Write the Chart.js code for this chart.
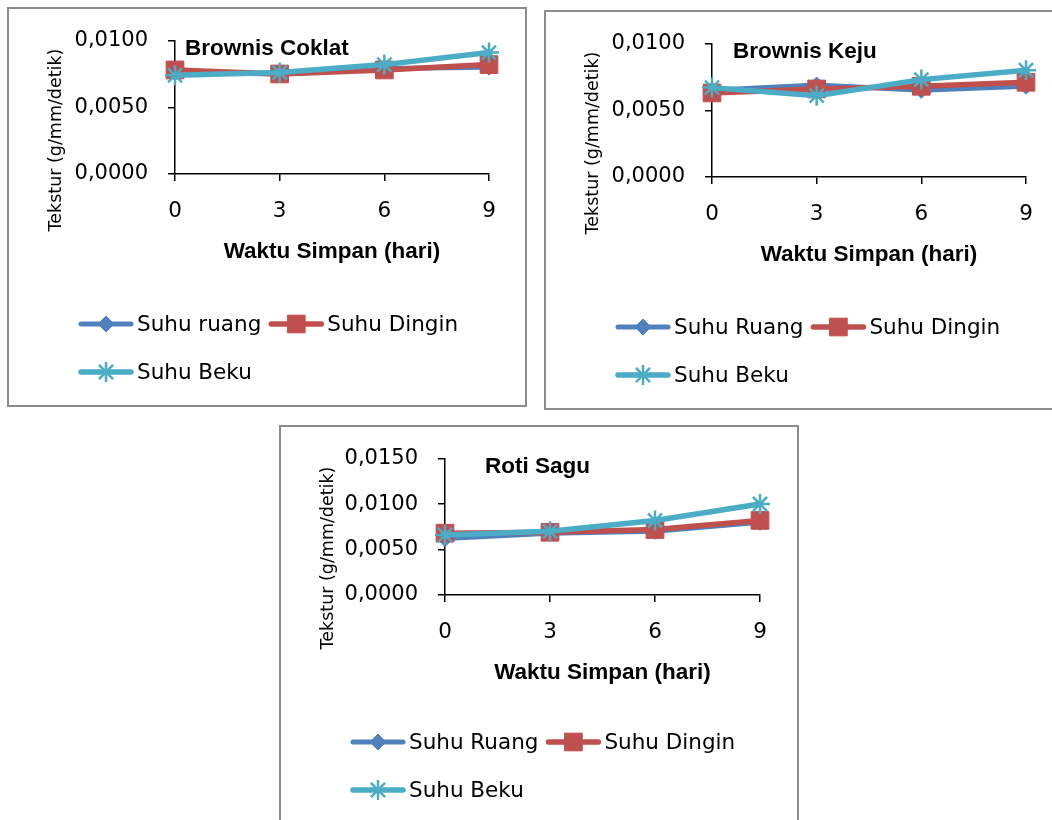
<!DOCTYPE html>
<html>
<head>
<meta charset="utf-8">
<script src="https://cdn.jsdelivr.net/npm/chart.js@4.4.1/dist/chart.umd.min.js"></script>
<style>
html,body{margin:0;padding:0;background:#fff;overflow:hidden;width:1052px;height:820px;}
.box{position:absolute;width:518px;height:398px;}
.box canvas{position:absolute;left:0;top:0;}
.frame{position:absolute;left:-1px;top:-1px;width:520px;height:400px;box-sizing:border-box;border:2px solid #8c8c8c;pointer-events:none;}
</style>
</head>
<body>
<div class="box" style="left:8px;top:8px"><canvas id="c1" width="518" height="398"></canvas><div class="frame"></div></div>
<div class="box" style="left:545px;top:11px"><canvas id="c2" width="518" height="398"></canvas><div class="frame"></div></div>
<div class="box" style="left:280px;top:426px"><canvas id="c3" width="518" height="398"></canvas><div class="frame"></div></div>
<script>
// ---- data ----
const categories = ['0', '3', '6', '9'];
const namesCoklat = ['Suhu ruang', 'Suhu Dingin', 'Suhu Beku'];
const namesOther = ['Suhu Ruang', 'Suhu Dingin', 'Suhu Beku'];

const coklatRuang  = [0.0076, 0.0075, 0.0079, 0.0080];
const coklatDingin = [0.0078, 0.0075, 0.0078, 0.0082];
const coklatBeku   = [0.0074, 0.0076, 0.0082, 0.0091];

const kejuRuang  = [0.0065, 0.0069, 0.0065, 0.0068];
const kejuDingin = [0.0063, 0.0066, 0.0068, 0.0071];
const kejuBeku   = [0.0067, 0.0061, 0.0073, 0.0080];

const saguRuang  = [0.0062, 0.0068, 0.0070, 0.0080];
const saguDingin = [0.0068, 0.0069, 0.0072, 0.0082];
const saguBeku   = [0.0066, 0.0070, 0.0082, 0.0100];

const yTicksBrownis = [0, 0.005, 0.01];
const yTicksSagu = [0, 0.005, 0.01, 0.015];

const xTitle = 'Waktu Simpan (hari)';
const yTitle = 'Tekstur (g/mm/detik)';

// ---- styles ----
const BLUE = '#4F81BD', RED = '#C0504D', CYAN = '#4BACC6';
const REG = '"DejaVu Sans", sans-serif';
const BOLD = '"Liberation Sans", Arial, sans-serif';

function drawMarker(ctx, style, x, y, r, color, bw) {
  ctx.save();
  ctx.fillStyle = color; ctx.strokeStyle = color; ctx.lineWidth = bw;
  ctx.beginPath();
  if (style === 'rectRot') {
    ctx.moveTo(x - r, y); ctx.lineTo(x, y - r); ctx.lineTo(x + r, y); ctx.lineTo(x, y + r); ctx.closePath();
    ctx.fill(); ctx.stroke();
  } else if (style === 'rect') {
    const s = r * Math.SQRT1_2;
    ctx.rect(x - s, y - s, 2 * s, 2 * s); ctx.fill(); ctx.stroke();
  } else {
    ctx.moveTo(x, y - r); ctx.lineTo(x, y + r);
    ctx.moveTo(x - r, y); ctx.lineTo(x + r, y);
    const d = r * Math.SQRT1_2;
    ctx.moveTo(x - d, y - d); ctx.lineTo(x + d, y + d);
    ctx.moveTo(x - d, y + d); ctx.lineTo(x + d, y - d);
    ctx.stroke();
  }
  ctx.restore();
}

const decor = {
  id: 'decor',
  afterDraw(chart, args, o) {
    const ctx = chart.ctx, a = chart.chartArea;
    ctx.save();
    ctx.fillStyle = '#000';
    ctx.textBaseline = 'middle';
    ctx.textAlign = 'left';
    ctx.font = 'bold 22.5px ' + BOLD;
    ctx.fillText(o.title, a.left + o.titleDx, a.top + o.titleDy);
    ctx.save();
    ctx.translate(o.yTitleX, o.yTitleY);
    ctx.rotate(-Math.PI / 2);
    ctx.textAlign = 'center';
    ctx.font = '17.5px ' + REG;
    ctx.fillText(o.yTitle, 0, 0);
    ctx.restore();
    // legend
    ctx.font = '21.5px ' + REG;
    let x = o.legendX, y = o.legendY;
    const sample = 54, gap = 4, itemGap = 8;
    chart.data.datasets.forEach((ds, i) => {
      const tw = ctx.measureText(ds.label).width;
      const w = sample + gap + tw;
      if (i > 0 && x + w > chart.width - 10) { x = o.legendX; y += o.legendRow; }
      ctx.save();
      ctx.strokeStyle = ds.borderColor; ctx.lineWidth = ds.borderWidth; ctx.lineCap = 'round';
      ctx.beginPath(); ctx.moveTo(x + 2, y); ctx.lineTo(x + sample - 2, y); ctx.stroke();
      ctx.restore();
      drawMarker(ctx, ds.pointStyle, x + sample / 2, y, ds.pointRadius, ds.borderColor, ds.pointBorderWidth);
      ctx.fillStyle = '#000';
      ctx.fillText(ds.label, x + sample + gap, y + 1);
      x += w + itemGap;
    });
    ctx.restore();
  }
};

function makeChart(id, c) {
  const XH = 91.5;
  return new Chart(document.getElementById(id), {
    type: 'line',
    data: {
      labels: categories,
      datasets: [
        {label: c.names[0], data: c.ruang, borderColor: BLUE, backgroundColor: BLUE,
         pointBackgroundColor: BLUE, pointBorderColor: BLUE, borderWidth: 5,
         pointStyle: 'rectRot', pointRadius: 8, pointBorderWidth: 1, order: 3, clip: false, tension: 0},
        {label: c.names[1], data: c.dingin, borderColor: RED, backgroundColor: RED,
         pointBackgroundColor: RED, pointBorderColor: RED, borderWidth: 5.5,
         pointStyle: 'rect', pointRadius: 12.5, pointBorderWidth: 1, order: 2, clip: false, tension: 0},
        {label: c.names[2], data: c.beku, borderColor: CYAN, backgroundColor: CYAN,
         pointBackgroundColor: CYAN, pointBorderColor: CYAN, borderWidth: 5.5,
         pointStyle: 'star', pointRadius: 10, pointBorderWidth: 2.5, order: 1, clip: false, tension: 0}
      ]
    },
    options: {
      responsive: false, animation: false, devicePixelRatio: 1,
      events: [],
      layout: {padding: {left: 0, top: c.top, right: 518 - c.right, bottom: 398 - c.bottom - XH}},
      plugins: {
        legend: {display: false}, tooltip: {enabled: false},
        decor: {title: c.title, titleDx: c.titleDx, titleDy: 8, yTitle: yTitle, yTitleX: 48, yTitleY: 132,
                legendX: 71, legendY: 316, legendRow: 48}
      },
      scales: {
        x: {
          type: 'category', offset: false,
          grid: {drawOnChartArea: false, drawTicks: true, tickLength: 7, color: '#000', lineWidth: 1.5},
          border: {display: true, color: '#000', width: 1.5},
          ticks: {color: '#000', font: {family: REG, size: 21.5}, padding: 18, maxRotation: 0},
          title: {display: true, text: xTitle, color: '#000', padding: {top: 0, bottom: 0},
                  font: {family: BOLD, size: 22.5, weight: 'bold'}},
          afterFit: s => { s.height = XH; }
        },
        y: {
          min: c.yTicks[0], max: c.yTicks[c.yTicks.length - 1],
          grid: {drawOnChartArea: false, drawTicks: true, tickLength: 7, color: '#000', lineWidth: 1.5},
          border: {display: true, color: '#000', width: 1.5},
          ticks: {color: '#000', font: {family: REG, size: 21}, padding: 20,
                  callback: v => Number(v).toFixed(4).replace('.', ',')},
          afterBuildTicks: s => { s.ticks = c.yTicks.map(v => ({value: v})); },
          afterFit: s => { s.width = c.left; }
        }
      }
    },
    plugins: [decor]
  });
}

makeChart('c1', {names: namesCoklat, ruang: coklatRuang, dingin: coklatDingin, beku: coklatBeku,
  yTicks: yTicksBrownis, title: 'Brownis Coklat', titleDx: 10, left: 167, right: 481, top: 30, bottom: 166});
makeChart('c2', {names: namesOther, ruang: kejuRuang, dingin: kejuDingin, beku: kejuBeku,
  yTicks: yTicksBrownis, title: 'Brownis Keju', titleDx: 21, left: 167, right: 481, top: 30, bottom: 166});
makeChart('c3', {names: namesOther, ruang: saguRuang, dingin: saguDingin, beku: saguBeku,
  yTicks: yTicksSagu, title: 'Roti Sagu', titleDx: 40, left: 165, right: 480, top: 32, bottom: 169});
</script>
</body>
</html>
